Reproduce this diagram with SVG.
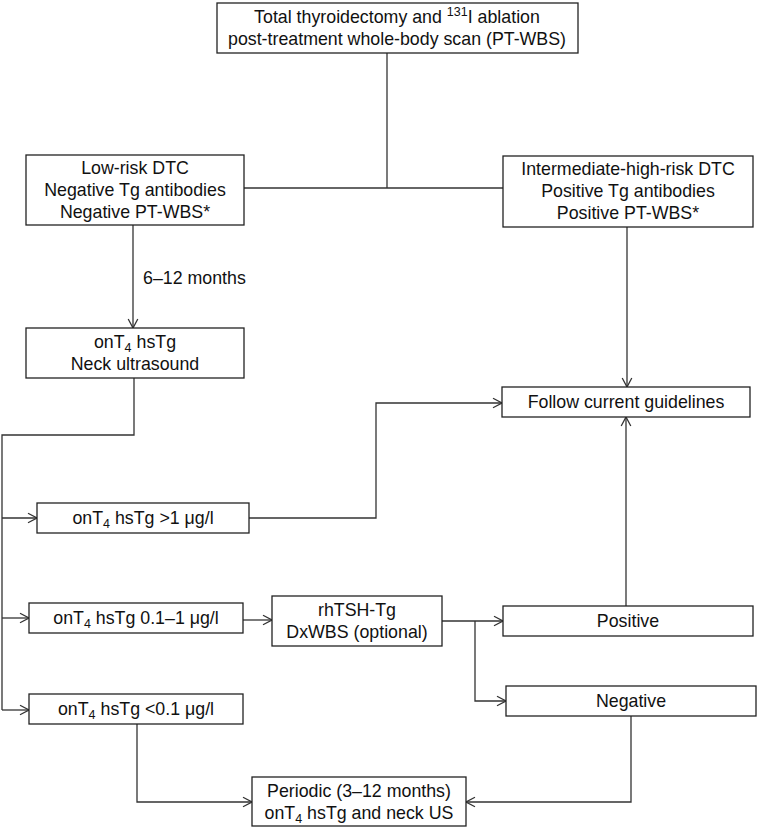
<svg xmlns="http://www.w3.org/2000/svg" width="758" height="828" viewBox="0 0 758 828">
<style>
  .box { fill: #ffffff; stroke: #222222; stroke-width: 1.3; }
  .t { font-family: "Liberation Sans", Arial, Helvetica, sans-serif; font-size: 17.8px; fill: #111111; text-anchor: middle; }
  .lbl { font-family: "Liberation Sans", Arial, Helvetica, sans-serif; font-size: 17.8px; fill: #111111; }
  .sub { font-size: 12.5px; }
  .c { fill: none; stroke: #333333; stroke-width: 1.3; }
</style>
<defs>
  <marker id="arr" markerWidth="11" markerHeight="12" refX="10" refY="6" orient="auto" markerUnits="userSpaceOnUse">
    <path d="M1,1.2 L10,6 L1,10.8" fill="none" stroke="#333333" stroke-width="1.3"/>
  </marker>
</defs>
<rect width="758" height="828" fill="#ffffff"/>

<g id="connectors">
  <polyline class="c" points="387,53 387,188"/>
  <polyline class="c" points="244,188 503,188"/>
  <polyline class="c" points="133,225 133,328" marker-end="url(#arr)"/>
  <polyline class="c" points="627,227 627,387" marker-end="url(#arr)"/>
  <polyline class="c" points="134,378 134,435 2,435 2,710"/>
  <polyline class="c" points="2,518 37,518" marker-end="url(#arr)"/>
  <polyline class="c" points="2,618 29,618" marker-end="url(#arr)"/>
  <polyline class="c" points="2,710 29,710" marker-end="url(#arr)"/>
  <polyline class="c" points="249,518 376,518 376,403 502,403" marker-end="url(#arr)"/>
  <polyline class="c" points="243,620 272,620" marker-end="url(#arr)"/>
  <polyline class="c" points="442,621 503,621" marker-end="url(#arr)"/>
  <polyline class="c" points="475,621 475,701 506,701" marker-end="url(#arr)"/>
  <polyline class="c" points="626,606 626,417" marker-end="url(#arr)"/>
  <polyline class="c" points="631,716 631,802 466,802" marker-end="url(#arr)"/>
  <polyline class="c" points="137,724 137,802 252,802" marker-end="url(#arr)"/>
  <text class="lbl" x="143" y="284">6–12 months</text>
</g>

<g id="node-top">
  <rect class="box" x="217" y="3" width="361" height="50"/>
  <text class="t" x="397" y="23">Total thyroidectomy and <tspan class="sub" dy="-7">131</tspan><tspan dy="7">I ablation</tspan></text>
  <text class="t" x="397" y="45">post-treatment whole-body scan (PT-WBS)</text>
</g>

<g id="node-low-risk">
  <rect class="box" x="26" y="155" width="218" height="70"/>
  <text class="t" x="135" y="174">Low-risk DTC</text>
  <text class="t" x="135" y="196">Negative Tg antibodies</text>
  <text class="t" x="135" y="218">Negative PT-WBS*</text>
</g>

<g id="node-high-risk">
  <rect class="box" x="503" y="156" width="250" height="71"/>
  <text class="t" x="628" y="175">Intermediate-high-risk DTC</text>
  <text class="t" x="628" y="197">Positive Tg antibodies</text>
  <text class="t" x="628" y="219">Positive PT-WBS*</text>
</g>

<g id="node-ont4-neck">
  <rect class="box" x="26" y="328" width="218" height="50"/>
  <text class="t" x="135" y="348">onT<tspan class="sub" dy="4">4</tspan><tspan dy="-4"> hsTg</tspan></text>
  <text class="t" x="135" y="370">Neck ultrasound</text>
</g>

<g id="node-follow">
  <rect class="box" x="502" y="387" width="248" height="30"/>
  <text class="t" x="626" y="408">Follow current guidelines</text>
</g>

<g id="node-gt1">
  <rect class="box" x="37" y="503" width="212" height="30"/>
  <text class="t" x="143" y="524">onT<tspan class="sub" dy="4">4</tspan><tspan dy="-4"> hsTg &gt;1 μg/l</tspan></text>
</g>

<g id="node-mid">
  <rect class="box" x="29" y="603" width="214" height="30"/>
  <text class="t" x="136" y="624">onT<tspan class="sub" dy="4">4</tspan><tspan dy="-4"> hsTg 0.1–1 μg/l</tspan></text>
</g>

<g id="node-rhtsh">
  <rect class="box" x="272" y="596" width="170" height="50"/>
  <text class="t" x="357" y="616">rhTSH-Tg</text>
  <text class="t" x="357" y="638">DxWBS (optional)</text>
</g>

<g id="node-positive">
  <rect class="box" x="503" y="606" width="250" height="30"/>
  <text class="t" x="628" y="627">Positive</text>
</g>

<g id="node-negative">
  <rect class="box" x="506" y="686" width="250" height="30"/>
  <text class="t" x="631" y="707">Negative</text>
</g>

<g id="node-lt01">
  <rect class="box" x="29" y="694" width="214" height="30"/>
  <text class="t" x="136" y="715">onT<tspan class="sub" dy="4">4</tspan><tspan dy="-4"> hsTg &lt;0.1 μg/l</tspan></text>
</g>

<g id="node-periodic">
  <rect class="box" x="252" y="777" width="214" height="49"/>
  <text class="t" x="359" y="797">Periodic (3–12 months)</text>
  <text class="t" x="359" y="819">onT<tspan class="sub" dy="4">4</tspan><tspan dy="-4"> hsTg and neck US</tspan></text>
</g>
</svg>
